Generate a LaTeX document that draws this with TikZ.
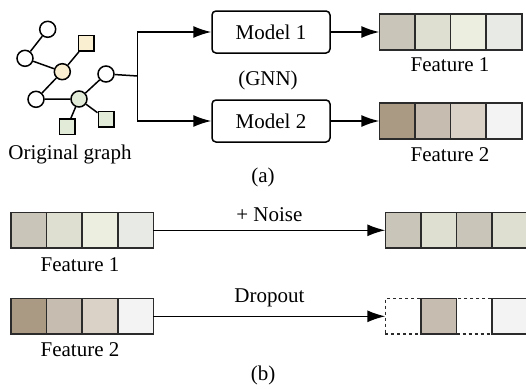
\documentclass[tikz,border=0pt]{standalone}
\usepackage{fontspec}
\setmainfont{Liberation Serif}
\usetikzlibrary{arrows.meta,positioning}
\usepackage{xcolor}

\definecolor{fa}{HTML}{C9C6B9}
\definecolor{fb}{HTML}{DEDFD0}
\definecolor{fc}{HTML}{ECEEE0}
\definecolor{fd}{HTML}{E8EAE6}
\definecolor{ga}{HTML}{AA9A83}
\definecolor{gb}{HTML}{C6BDB0}
\definecolor{gc}{HTML}{DAD2C7}
\definecolor{gd}{HTML}{F3F3F3}
\definecolor{yel}{HTML}{FBEFD2}
\definecolor{grn}{HTML}{E2EAD8}
\definecolor{edge}{HTML}{2B2B2B}

\begin{document}
\begin{tikzpicture}[
    x=1pt, y=-1pt,
    >={Latex[length=18pt,width=12pt]},
    line width=1.5pt,
    every node/.style={font=\fontsize{21}{25}\selectfont},
    vtx/.style={circle,draw,fill=white,line width=1.5pt,minimum size=16pt,inner sep=0pt},
    sq/.style={rectangle,draw,line width=1.5pt,minimum size=15.5pt,inner sep=0pt},
    model/.style={rectangle,draw,rounded corners=4pt,minimum width=118pt,minimum height=42pt,line width=1.5pt},
    cell/.style={rectangle,draw=edge,line width=1.6pt,minimum size=35.6pt,inner sep=0pt,outer sep=0pt},
    lbl/.style={inner sep=0pt}
]
\clip (0,0) rectangle (526,388);

% Original graph
\node[vtx] (t) at (47.7,29.3) {};
\node[vtx] (l) at (25,58.3) {};
\node[vtx,fill=yel] (y) at (62.3,71.7) {};
\node[sq,fill=yel] (ys) at (86,43.3) {};
\node[vtx] (r) at (106,74) {};
\node[vtx] (ll) at (36,99.3) {};
\node[vtx,fill=grn] (g) at (79,99) {};
\node[sq,fill=grn] (gs1) at (67.3,126.7) {};
\node[sq,fill=grn] (gs2) at (106,119) {};
\draw (t) -- (l);
\draw (l) -- (y);
\draw (y) -- (ys);
\draw (y) -- (ll);
\draw (ll) -- (g);
\draw (g) -- (r);
\draw (g) -- (gs1);
\draw (g) -- (gs2);
\node[lbl] (og) at (70,154) {Original graph};

% Models
\node[model] (m1) at (271,32) {Model 1};
\node[model] (m2) at (271,121) {Model 2};
\node[lbl] (gnn) at (268,80) {(GNN)};
\coordinate (jn) at (137.7,76);
\draw (r) -- (jn);
\draw[->] (jn) |- (m1);
\draw[->] (jn) |- (m2);

% Features of (a)
\node[cell,fill=fa] (p1) at (397.1,32) {};
\node[cell,fill=fb,right=0pt of p1] (p2) {};
\node[cell,fill=fc,right=0pt of p2] (p3) {};
\node[cell,fill=fd,right=0pt of p3] (p4) {};
\node[cell,fill=ga] (q1) at (397.1,121) {};
\node[cell,fill=gb,right=0pt of q1] (q2) {};
\node[cell,fill=gc,right=0pt of q2] (q3) {};
\node[cell,fill=gd,right=0pt of q3] (q4) {};
\node[lbl] (pl) at (450,65) {Feature 1};
\node[lbl] (ql) at (450,155) {Feature 2};
\draw[->] (m1) -- (p1);
\draw[->] (m2) -- (q1);
\node[lbl] (a) at (263,177) {(a)};

% Features of (b)
\node[cell,fill=fa] (u1) at (28.8,230.3) {};
\node[cell,fill=fb,right=0pt of u1] (u2) {};
\node[cell,fill=fc,right=0pt of u2] (u3) {};
\node[cell,fill=fd,right=0pt of u3] (u4) {};
\node[cell,fill=ga] (v1) at (28.8,316.3) {};
\node[cell,fill=gb,right=0pt of v1] (v2) {};
\node[cell,fill=gc,right=0pt of v2] (v3) {};
\node[cell,fill=gd,right=0pt of v3] (v4) {};
\node[lbl] (ul) at (80,265) {Feature 1};
\node[lbl] (vl) at (80,350) {Feature 2};

% Noise
\node[cell,fill=fa] (n1) at (403.1,230.3) {};
\node[cell,fill=fb,right=0pt of n1] (n2) {};
\node[cell,fill=fa,right=0pt of n2] (n3) {};
\node[cell,fill=fb,right=0pt of n3] (n4) {};
\draw[->] (u4) -- (n1) node[midway,above=5pt] {+ Noise};

% Dropout
\node[cell,fill=white,dashed,line width=1.3pt] (d1) at (403.1,316.3) {};
\node[cell,fill=gb,right=0pt of d1] (d2) {};
\node[cell,fill=white,dashed,line width=1.3pt,right=0pt of d2] (d3) {};
\node[cell,fill=gd,right=0pt of d3] (d4) {};
\draw[edge,line width=1.6pt] (d2.north west) rectangle (d2.south east);
\draw[->] (v4) -- (d1) node[midway,above=5pt] {Dropout};
\node[lbl] (b) at (263,375) {(b)};

\end{tikzpicture}
\end{document}
